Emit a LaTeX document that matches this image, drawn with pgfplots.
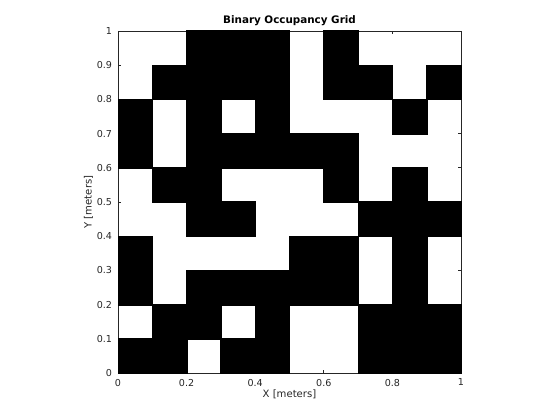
\documentclass[border=0pt]{standalone}
\usepackage{fontspec}
\setmainfont{DejaVu Sans}
\usepackage{pgfplots}
\usepackage{pgfplotstable}
\pgfplotsset{compat=1.18}
\definecolor{axgray}{rgb}{0.15,0.15,0.15}

% occupancy: 1 = occupied (black), cell centres
\pgfplotstableread{
x y c
0.05 0.05 1
0.15 0.05 1
0.25 0.05 0
0.35 0.05 1
0.45 0.05 1
0.55 0.05 0
0.65 0.05 0
0.75 0.05 1
0.85 0.05 1
0.95 0.05 1
0.05 0.15 0
0.15 0.15 1
0.25 0.15 1
0.35 0.15 0
0.45 0.15 1
0.55 0.15 0
0.65 0.15 0
0.75 0.15 1
0.85 0.15 1
0.95 0.15 1
0.05 0.25 1
0.15 0.25 0
0.25 0.25 1
0.35 0.25 1
0.45 0.25 1
0.55 0.25 1
0.65 0.25 1
0.75 0.25 0
0.85 0.25 1
0.95 0.25 0
0.05 0.35 1
0.15 0.35 0
0.25 0.35 0
0.35 0.35 0
0.45 0.35 0
0.55 0.35 1
0.65 0.35 1
0.75 0.35 0
0.85 0.35 1
0.95 0.35 0
0.05 0.45 0
0.15 0.45 0
0.25 0.45 1
0.35 0.45 1
0.45 0.45 0
0.55 0.45 0
0.65 0.45 0
0.75 0.45 1
0.85 0.45 1
0.95 0.45 1
0.05 0.55 0
0.15 0.55 1
0.25 0.55 1
0.35 0.55 0
0.45 0.55 0
0.55 0.55 0
0.65 0.55 1
0.75 0.55 0
0.85 0.55 1
0.95 0.55 0
0.05 0.65 1
0.15 0.65 0
0.25 0.65 1
0.35 0.65 1
0.45 0.65 1
0.55 0.65 1
0.65 0.65 1
0.75 0.65 0
0.85 0.65 0
0.95 0.65 0
0.05 0.75 1
0.15 0.75 0
0.25 0.75 1
0.35 0.75 0
0.45 0.75 1
0.55 0.75 0
0.65 0.75 0
0.75 0.75 0
0.85 0.75 1
0.95 0.75 0
0.05 0.85 0
0.15 0.85 1
0.25 0.85 1
0.35 0.85 1
0.45 0.85 1
0.55 0.85 0
0.65 0.85 1
0.75 0.85 1
0.85 0.85 0
0.95 0.85 1
0.05 0.95 0
0.15 0.95 0
0.25 0.95 1
0.35 0.95 1
0.45 0.95 1
0.55 0.95 0
0.65 0.95 1
0.75 0.95 0
0.85 0.95 0
0.95 0.95 0
}\gridtable

\begin{document}
\begin{tikzpicture}
\begin{axis}[
    name=ax,
    scale only axis,
    width=257.25bp,
    height=256.5bp,
    xmin=0, xmax=1,
    ymin=0, ymax=1,
    xtick={0,0.2,0.4,0.6,0.8,1},
    ytick={0,0.1,0.2,0.3,0.4,0.5,0.6,0.7,0.8,0.9,1},
    xticklabels={0,0.2,0.4,0.6,0.8,1},
    yticklabels={0,0.1,0.2,0.3,0.4,0.5,0.6,0.7,0.8,0.9,1},
    tick align=inside,
    major tick length=2.5bp,
    tick style={axgray, line width=0.5pt},
    axis line style={axgray, line width=0.5pt},
    axis on top,
    clip=true,
    ticklabel style={font=\fontsize{7.2}{8.5}\selectfont, text=axgray},
    xticklabel style={yshift=-1bp},
    yticklabel style={xshift=-1bp},
    label style={font=\fontsize{7.6}{9}\selectfont, text=axgray},
    xlabel={X [meters]},
    ylabel={Y [meters]},
    xlabel style={yshift=4bp},
    ylabel style={yshift=-4bp},
    title={Binary Occupancy Grid},
    title style={font=\bfseries\fontsize{7.8}{9}\selectfont, yshift=-5.5bp},
]
% occupied cells as filled squares the size of one cell (slight overlap, no seams)
\addplot[only marks, mark=square*, mark size=13bp,
    mark options={fill=black, draw=none}, restrict expr to domain={\thisrow{c}}{1:1}]
    table[x=x, y=y] {\gridtable};
\end{axis}
\path ([xshift=-88.5bp,yshift=-35.25bp]ax.south west) rectangle ([xshift=74.25bp,yshift=23.25bp]ax.north east);
\end{tikzpicture}
\end{document}
